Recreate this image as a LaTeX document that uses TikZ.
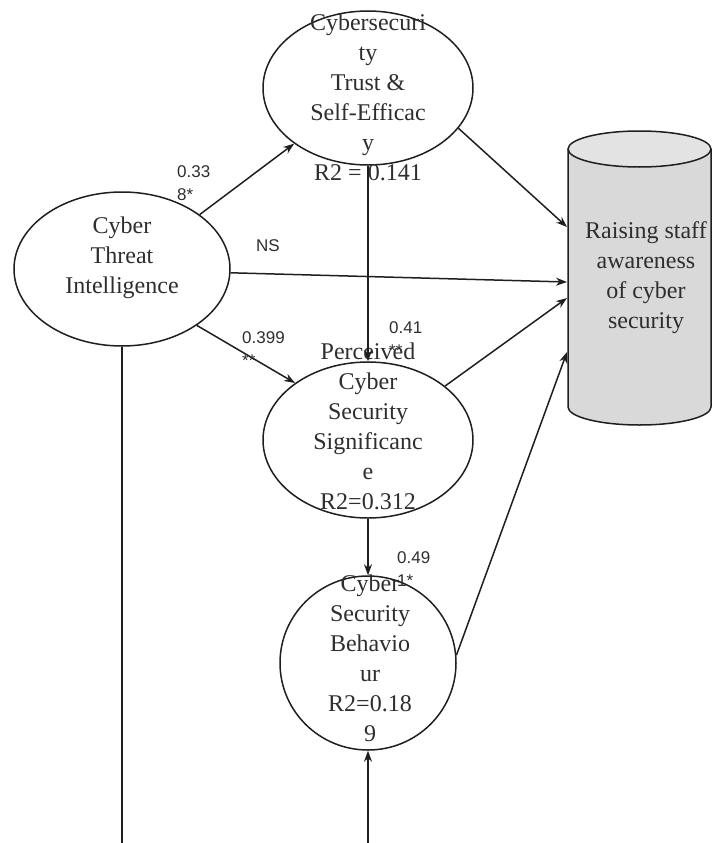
\documentclass[tikz,border=0pt]{standalone}
\usepackage{fontspec}
\setmainfont{Liberation Serif}
\setsansfont{Liberation Sans}
\usetikzlibrary{arrows.meta,shapes.geometric}
\begin{document}
\begin{tikzpicture}[x=1pt,y=-1pt,
  construct/.style={ellipse, draw=black!88, line width=1.5pt, inner sep=0pt, fill=white},
  body/.style={align=center, font=\fontsize{24}{30}\selectfont, text=black!82, inner sep=0pt},
  lbl/.style={font=\sffamily\fontsize{17}{23}\selectfont, text=black!82, align=left, inner sep=0pt, anchor=north west},
  link/.style={draw=black!88, line width=1.5pt, -{Stealth[length=11pt,width=8pt]}},
  plain/.style={draw=black!88, line width=1.5pt}
]
\useasboundingbox (0,0) rectangle (712,843);

% outcome cylinder
\fill[black!15] (568,149) -- (568,407)
  .. controls (568,416.9) and (600,425) .. (639.5,425)
  .. controls (679,425) and (711,416.9) .. (711,407) -- (711,149) -- cycle;
\draw[black!88, line width=1.5pt] (568,149) -- (568,407)
  .. controls (568,416.9) and (600,425) .. (639.5,425)
  .. controls (679,425) and (711,416.9) .. (711,407) -- (711,149);
\draw[black!88, line width=1.5pt, fill=black!11] (639.5,149) ellipse [x radius=71.5, y radius=18];
\node[body] (aware) at (646,278) {Raising staff\\awareness\\of cyber\\security};
\coordinate (inA) at (567,227);
\coordinate (inB) at (567,282);
\coordinate (inC) at (567,298);
\coordinate (inD) at (567,352);

% constructs
\node[construct, minimum width=216pt, minimum height=154pt] (cti) at (122,269) {};
\node[construct, minimum width=210pt, minimum height=154pt] (trust) at (368,88) {};
\node[construct, minimum width=210pt, minimum height=156pt] (perc) at (368,440) {};
\node[construct, minimum width=176pt, minimum height=174pt] (beh) at (368,663) {};

\node[body] (ctiText) at (122,258) {Cyber\\Threat\\Intelligence};
\node[body] (trustText) at (368,97) {Cybersecuri\\ty\\Trust \&\\Self-Efficac\\y\\R2 = 0.141};
\node[body] (percText) at (368,426) {Perceived\\Cyber\\Security\\Significanc\\e\\R2=0.312};
\node[body] (behText) at (370,658) {Cyber\\Security\\Behavio\\ur\\R2=0.18\\9};

\coordinate (ctiEnd) at (122,843);
\coordinate (behEnd) at (368,843);

% paths
\draw[link] (cti.35) -- (trust.217);
\draw[link] (trust.-24) -- (inA);
\draw[link] (cti.-2) -- (inB);
\draw[link] (cti.-37) -- (perc.142);
\draw[link] (trust.south) -- (perc.north);
\draw[link] (perc.35) -- (inC);
\draw[link] (perc.south) -- (beh.north);
\draw[link] (beh.5) -- (inD);
\draw[plain] (cti.south) -- (ctiEnd);
\draw[link] (behEnd) -- (beh.south);

% path coefficients
\node[lbl] (lTrust) at (177,165) {0.33\\8*};
\node[lbl] (lNS) at (256,239) {NS};
\node[lbl] (lPerc) at (242,331) {0.399\\**};
\node[lbl] (lTP) at (389,321) {0.41\\**};
\node[lbl] (lPB) at (397,551) {0.49\\1*};
\end{tikzpicture}
\end{document}
